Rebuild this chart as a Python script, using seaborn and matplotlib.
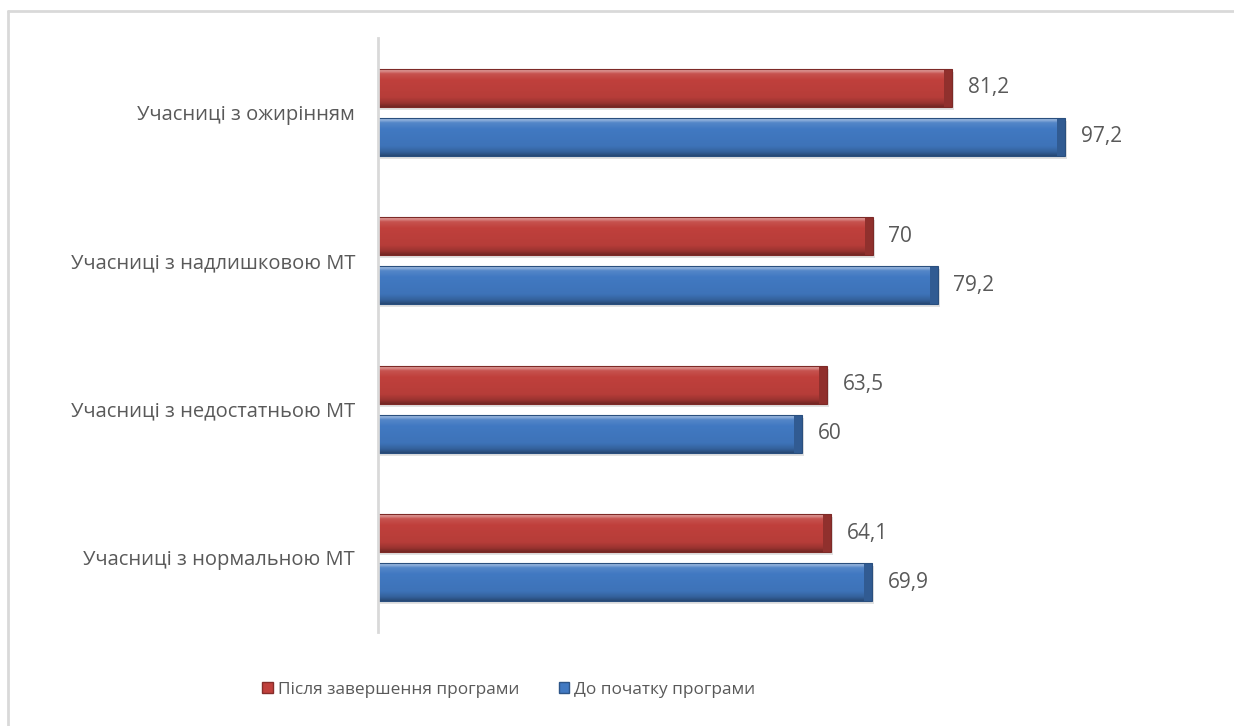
import numpy as np
import pandas as pd
import matplotlib
matplotlib.use("Agg")
import matplotlib.pyplot as plt
import matplotlib.colors as mcolors
from matplotlib.patches import Rectangle
from matplotlib.lines import Line2D
import seaborn as sns

categories = [
    "Учасниці з ожирінням",
    "Учасниці з надлишковою МТ",
    "Учасниці з недостатньою МТ",
    "Учасниці з нормальною МТ",
]
series_names = ["Після завершення програми", "До початку програми"]
after_values = [81.2, 70.0, 63.5, 64.1]
before_values = [97.2, 79.2, 60.0, 69.9]
after_labels = ["81,2", "70", "63,5", "64,1"]
before_labels = ["97,2", "79,2", "60", "69,9"]

df = pd.DataFrame({
    "category": categories * 2,
    "series": [series_names[0]] * 4 + [series_names[1]] * 4,
    "value": after_values + before_values,
})

RED = "#C0403C"
BLUE = "#4179C2"
palette = {series_names[0]: RED, series_names[1]: BLUE}
TEXT = "#595959"

sns.set_theme(style="white")
plt.rcParams["font.family"] = ["Open Sans", "DejaVu Sans"]

W, H = 1234, 726
fig = plt.figure(figsize=(W / 100, H / 100), dpi=100)
ax = fig.add_axes([378 / W, 1 - 632 / H, 830 / W, 594 / H])

sns.barplot(
    data=df, y="category", x="value", hue="series",
    order=categories, hue_order=series_names, palette=palette,
    orient="h", width=0.66, gap=0.224, ax=ax, legend=False,
    saturation=1, linewidth=0,
)

ax.set_xlim(0, 117.4)
ax.set_ylim(3.5, -0.5)


def shade(color, f):
    r, g, b = mcolors.to_rgb(color)
    if f >= 0:
        return (r + (1 - r) * f, g + (1 - g) * f, b + (1 - b) * f)
    f = -f
    return (r * (1 - f), g * (1 - f), b * (1 - f))


# bevelled look: vertical gradient, dark right end, soft shadow below
for patch in list(ax.patches):
    x0, y0 = patch.get_x(), patch.get_y()
    w, h = patch.get_width(), patch.get_height()
    base = patch.get_facecolor()
    n = 60
    t = np.linspace(0, 1, n)
    prof = np.interp(t, [0, 0.06, 0.14, 0.3, 0.75, 0.9, 1.0],
                     [0.35, 0.45, 0.1, 0.0, -0.05, -0.2, -0.4])
    cols = np.array([shade(base, p) for p in prof])
    img = np.repeat(cols[:, None, :], 2, axis=1)
    ax.add_patch(Rectangle((x0 + 0.25, y0 + 0.02), w, h, facecolor="#d0d0d0",
                           edgecolor="none", zorder=patch.get_zorder() - 0.5,
                           alpha=0.6))
    im = ax.imshow(img, extent=(x0, x0 + w, y0 + h, y0), aspect="auto",
                   interpolation="bilinear", zorder=patch.get_zorder() + 0.1)
    im.set_clip_path(patch)
    ax.add_patch(Rectangle((x0 + w - 1.1, y0), 1.1, h,
                           facecolor=shade(base, -0.25), edgecolor="none",
                           zorder=patch.get_zorder() + 0.2))
    ax.add_patch(Rectangle((x0, y0), w, h, facecolor="none",
                           edgecolor=shade(base, -0.35), linewidth=0.8,
                           zorder=patch.get_zorder() + 0.3))

for i, cat in enumerate(categories):
    for j, (vals, labs) in enumerate([(after_values, after_labels),
                                      (before_values, before_labels)]):
        yc = i + (-0.165 if j == 0 else 0.165)
        ax.text(vals[i] + 2.2, yc, labs[i], va="center", ha="left",
                fontsize=15, color=TEXT)

ax.set_xlabel("")
ax.set_ylabel("")
ax.set_xticks([])
ax.tick_params(axis="y", length=0, pad=16.5, labelsize=14.5, labelcolor=TEXT)
for s in ["top", "right", "bottom"]:
    ax.spines[s].set_visible(False)
ax.spines["left"].set_color("#d9d9d9")
ax.spines["left"].set_linewidth(2)

handles = [Rectangle((0, 0), 1, 1, facecolor=RED, edgecolor=shade(RED, -0.3)),
           Rectangle((0, 0), 1, 1, facecolor=BLUE, edgecolor=shade(BLUE, -0.3))]
fig.legend(handles, series_names, loc="center", bbox_to_anchor=(509 / W, 1 - 690 / H),
           ncol=2, frameon=False, fontsize=12.4, labelcolor=TEXT,
           handlelength=0.6, handleheight=0.6, handletextpad=0.3,
           columnspacing=2.3)

# chart-area frame
fig.add_artist(Line2D([7.5 / W, 1.0], [1 - 10.5 / H, 1 - 10.5 / H],
                      transform=fig.transFigure, color="#d9d9d9", lw=2))
fig.add_artist(Line2D([7.5 / W, 7.5 / W], [0, 1 - 10.5 / H],
                      transform=fig.transFigure, color="#d9d9d9", lw=2))

fig.savefig("out.png", dpi=100, facecolor="white")
